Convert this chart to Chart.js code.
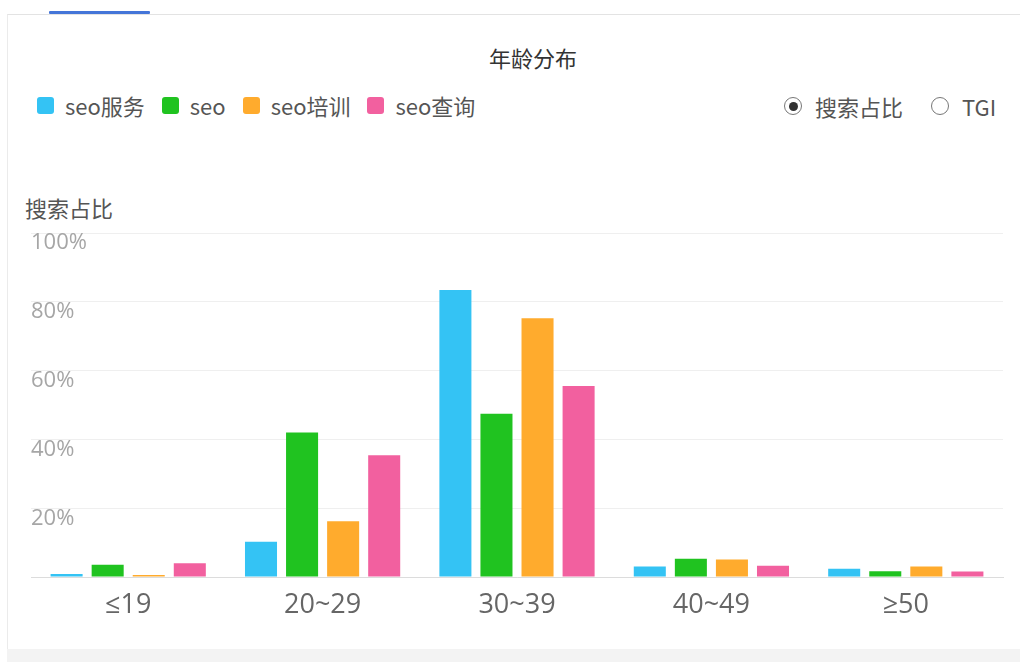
<!DOCTYPE html>
<html>
<head>
<meta charset="utf-8">
<script src="https://cdn.jsdelivr.net/npm/chart.js@4.4.1/dist/chart.umd.min.js"></script>
<style>
  html, body { margin: 0; padding: 0; background: #fff; }
  body { width: 1020px; height: 662px; position: relative; overflow: hidden;
         font-family: "Open Sans", "Noto Sans CJK SC", sans-serif; }
  #card { position: absolute; left: 7px; top: 14px; right: 0; bottom: 13px;
          border-left: 1px solid #ebebeb; border-top: 1px solid #e3e3e3; }
  #tab { position: absolute; left: 49px; top: 11px; width: 101px; height: 3px; background: #4475d8; border-radius: 1px; }
  #foot { position: absolute; left: 7px; right: 0; bottom: 0; height: 13px; background: #f3f3f3; }
  #title { position: absolute; left: 0; width: 1066px; top: 41px; text-align: center;
           font-family: "Noto Sans CJK SC", sans-serif; font-size: 22px; color: #333; }
  #legend { position: absolute; left: 37px; top: 89px; display: flex; font-size: 22px; color: #555; }
  #legend .item { display: flex; align-items: center; margin-right: 17px; }
  #legend .box { width: 17px; height: 17px; border-radius: 3px; margin-right: 11px; }
  #legend span { font-family: "Noto Sans CJK SC", sans-serif; }
  #radios { position: absolute; left: 784px; top: 90px; display: flex; align-items: center;
            font-family: "Noto Sans CJK SC", sans-serif; font-size: 22px; color: #555; }
  .radio { width: 16px; height: 16px; border: 1.5px solid #777; border-radius: 50%; position: relative; margin-right: 13px; }
  .radio.on::after { content: ""; position: absolute; left: 3.5px; top: 3.5px; width: 9px; height: 9px; border-radius: 50%; background: #333; }
  #yname { position: absolute; left: 25px; top: 191px; font-family: "Noto Sans CJK SC", sans-serif; font-size: 22px; color: #555; }
  #chart { position: absolute; left: 0; top: 200px; }
</style>
</head>
<body>
<div id="card"></div>
<div id="tab"></div>
<div id="foot"></div>
<div id="title">年龄分布</div>
<div id="legend"></div>
<div id="radios">
  <div class="radio on"></div><span style="margin-right:28px">搜索占比</span>
  <div class="radio"></div><span>TGI</span>
</div>
<div id="yname">搜索占比</div>
<canvas id="chart" width="1020" height="450"></canvas>
<script>
// age groups and share of searches (%) per keyword
var ageGroups = ['≤19', '20~29', '30~39', '40~49', '≥50'];
var seoService = [0.9, 10.3, 83.4, 3.1, 2.4];
var seo = [3.6, 42.0, 47.5, 5.3, 1.7];
var seoTraining = [0.6, 16.2, 75.2, 5.1, 3.1];
var seoQuery = [4.0, 35.4, 55.5, 3.3, 1.6];
var yTicks = [0, 20, 40, 60, 80, 100];

var series = [
    { name: 'seo服务', data: seoService, color: '#34c3f4' },
    { name: 'seo', data: seo, color: '#20c320' },
    { name: 'seo培训', data: seoTraining, color: '#ffab2d' },
    { name: 'seo查询', data: seoQuery, color: '#f2609f' }
];

// html legend
var legendHtml = '';
series.forEach(function(s) {
    legendHtml += '<div class="item"><div class="box" style="background:' + s.color + '"></div><span>' + s.name + '</span></div>';
});
document.getElementById('legend').innerHTML = legendHtml;

var ctx = document.getElementById('chart').getContext('2d');
var ageChart = new Chart(ctx, {
    type: 'bar',
    data: {
        labels: ageGroups,
        datasets: series.map(function(s) {
            return {
                label: s.name,
                data: s.data,
                backgroundColor: s.color,
                categoryPercentage: 0.845,
                barPercentage: 0.78
            };
        })
    },
    options: {
        responsive: false,
        animation: false,
        devicePixelRatio: 1,
        layout: { padding: { top: 33, left: 31, right: 17, bottom: 24.5 } },
        plugins: { legend: { display: false }, tooltip: { enabled: false } },
        scales: {
            x: {
                grid: { display: false },
                border: { color: '#dcdcdc' },
                ticks: { color: '#666', padding: 4, font: { size: 27, family: '"Open Sans", "Noto Sans CJK SC"' } }
            },
            y: {
                min: yTicks[0],
                max: yTicks[yTicks.length - 1],
                afterBuildTicks: function(scale) {
                    scale.ticks = yTicks.map(function(v) { return { value: v }; });
                },
                grid: { color: '#efefef', drawTicks: false },
                border: { display: false },
                ticks: {
                    mirror: true,
                    padding: 0,
                    labelOffset: 10,
                    color: '#a6a6a6',
                    font: { size: 22, family: '"Open Sans", "Noto Sans CJK SC"' },
                    callback: function(v) { return v === 0 ? '' : v + '%'; }
                }
            }
        }
    }
});
</script>
</body>
</html>
